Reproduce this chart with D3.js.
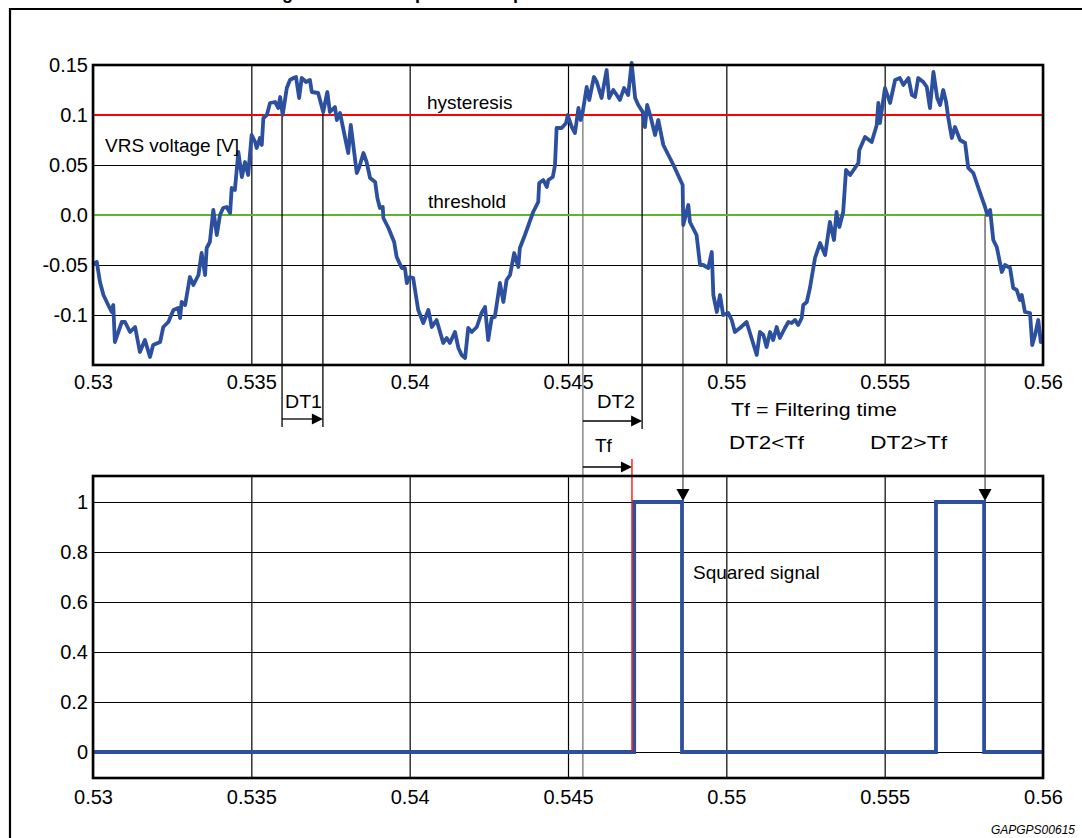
<!DOCTYPE html>
<html><head><meta charset="utf-8">
<script src="https://cdn.jsdelivr.net/npm/d3@7/dist/d3.min.js"></script>
<style>
body{margin:0;background:#fff;}
svg{display:block;font-family:"Liberation Sans",Arial,sans-serif;}
</style></head>
<body><svg id="c" width="1082" height="838"></svg>
<script>
// ---------- data ----------
const xTicks = [0.53,0.535,0.54,0.545,0.55,0.555,0.56];
const xTickLabels = ["0.53","0.535","0.54","0.545","0.55","0.555","0.56"];
const vTicks = [0.15,0.1,0.05,0,-0.05,-0.1];
const vTickLabels = ["0.15","0.1","0.05","0.0","-0.05","-0.1"];
const sqTicks = [1,0.8,0.6,0.4,0.2,0];
const sqTickLabels = ["1","0.8","0.6","0.4","0.2","0"];
const hysteresisLevel = 0.1;
const thresholdLevel = 0.0;

const vrsTime = [0.53000,0.53006,0.53012,0.53022,0.53033,0.53048,0.53059,0.53064,0.53069,0.53091,0.53101,0.53117,0.53133,0.53148,0.53164,0.53180,0.53190,0.53212,0.53222,0.53238,0.53254,0.53269,0.53275,0.53280,0.53291,0.53306,0.53317,0.53333,0.53343,0.53354,0.53359,0.53369,0.53380,0.53391,0.53401,0.53411,0.53422,0.53433,0.53438,0.53448,0.53459,0.53470,0.53480,0.53490,0.53501,0.53512,0.53517,0.53527,0.53533,0.53538,0.53549,0.53559,0.53575,0.53585,0.53591,0.53599,0.53612,0.53622,0.53633,0.53641,0.53651,0.53659,0.53673,0.53685,0.53691,0.53711,0.53727,0.53740,0.53748,0.53764,0.53770,0.53780,0.53806,0.53814,0.53833,0.53841,0.53854,0.53864,0.53875,0.53891,0.53898,0.53906,0.53915,0.53917,0.53933,0.53951,0.53959,0.53975,0.53985,0.53991,0.54001,0.54011,0.54027,0.54043,0.54059,0.54070,0.54085,0.54106,0.54117,0.54127,0.54143,0.54154,0.54164,0.54175,0.54185,0.54196,0.54212,0.54227,0.54238,0.54248,0.54259,0.54269,0.54285,0.54296,0.54306,0.54317,0.54330,0.54343,0.54348,0.54364,0.54390,0.54406,0.54409,0.54422,0.54433,0.54438,0.54452,0.54459,0.54464,0.54480,0.54494,0.54499,0.54512,0.54522,0.54533,0.54540,0.54546,0.54559,0.54567,0.54582,0.54591,0.54606,0.54622,0.54630,0.54643,0.54654,0.54664,0.54677,0.54690,0.54701,0.54712,0.54722,0.54736,0.54743,0.54750,0.54761,0.54775,0.54785,0.54801,0.54833,0.54862,0.54864,0.54880,0.54885,0.54906,0.54917,0.54927,0.54943,0.54954,0.54959,0.54970,0.54980,0.54990,0.55006,0.55017,0.55027,0.55043,0.55064,0.55096,0.55106,0.55117,0.55127,0.55138,0.55148,0.55159,0.55169,0.55185,0.55196,0.55206,0.55217,0.55227,0.55238,0.55243,0.55254,0.55264,0.55280,0.55296,0.55312,0.55327,0.55340,0.55348,0.55357,0.55369,0.55378,0.55391,0.55417,0.55420,0.55438,0.55459,0.55475,0.55480,0.55485,0.55501,0.55517,0.55533,0.55548,0.55559,0.55575,0.55586,0.55596,0.55606,0.55622,0.55633,0.55643,0.55654,0.55666,0.55675,0.55685,0.55694,0.55701,0.55712,0.55722,0.55738,0.55754,0.55764,0.55780,0.55796,0.55817,0.55824,0.55833,0.55843,0.55854,0.55870,0.55880,0.55896,0.55906,0.55917,0.55927,0.55933,0.55943,0.55959,0.55966,0.55975,0.55985,0.55993,0.55999];
const vrsVolt = [-0.050,-0.048,-0.047,-0.067,-0.080,-0.090,-0.097,-0.090,-0.127,-0.107,-0.107,-0.117,-0.112,-0.137,-0.125,-0.142,-0.130,-0.127,-0.112,-0.107,-0.095,-0.093,-0.103,-0.087,-0.090,-0.062,-0.070,-0.060,-0.038,-0.060,-0.033,-0.027,0.005,-0.020,0.000,0.007,0.008,0.002,0.027,0.025,0.063,0.038,0.053,0.040,0.080,0.073,0.067,0.077,0.070,0.097,0.100,0.112,0.113,0.107,0.118,0.100,0.127,0.135,0.137,0.138,0.117,0.137,0.133,0.135,0.123,0.122,0.103,0.123,0.103,0.108,0.095,0.102,0.062,0.090,0.042,0.048,0.062,0.053,0.037,0.033,0.017,0.007,0.008,-0.003,-0.013,-0.027,-0.042,-0.053,-0.053,-0.068,-0.062,-0.063,-0.095,-0.108,-0.095,-0.112,-0.105,-0.128,-0.123,-0.128,-0.117,-0.133,-0.140,-0.143,-0.113,-0.117,-0.112,-0.098,-0.092,-0.125,-0.103,-0.102,-0.068,-0.087,-0.065,-0.060,-0.038,-0.052,-0.033,-0.020,0.003,0.013,0.032,0.035,0.028,0.035,0.038,0.050,0.087,0.087,0.092,0.100,0.088,0.082,0.107,0.095,0.102,0.128,0.115,0.138,0.133,0.117,0.145,0.117,0.125,0.120,0.115,0.127,0.120,0.152,0.117,0.110,0.103,0.088,0.110,0.098,0.080,0.095,0.070,0.050,0.030,-0.010,0.010,-0.007,-0.020,-0.050,-0.050,-0.053,-0.037,-0.080,-0.097,-0.080,-0.100,-0.098,-0.105,-0.117,-0.113,-0.107,-0.140,-0.117,-0.120,-0.132,-0.117,-0.125,-0.112,-0.123,-0.113,-0.107,-0.108,-0.105,-0.110,-0.103,-0.090,-0.087,-0.073,-0.043,-0.028,-0.040,-0.007,-0.025,0.003,-0.012,0.003,0.045,0.040,0.052,0.065,0.078,0.073,0.090,0.112,0.092,0.127,0.112,0.135,0.137,0.130,0.137,0.120,0.118,0.137,0.133,0.128,0.107,0.143,0.117,0.110,0.125,0.113,0.097,0.077,0.088,0.075,0.072,0.047,0.042,0.027,0.008,0.000,0.005,-0.025,-0.032,-0.057,-0.050,-0.053,-0.073,-0.075,-0.085,-0.080,-0.097,-0.098,-0.130,-0.120,-0.105,-0.127,-0.125];

const sqTime  = [0.53,0.54709,0.54709,0.54860,0.54860,0.55662,0.55662,0.55814,0.55814,0.56];
const sqValue = [0,0,1,1,0,0,1,1,0,0];

// annotation times
const dt1Times = [0.53597,0.53726];
const dt2Times = [0.54547,0.54734];
const tfTimes  = [0.54547,0.54702];
const edgeTimes = [0.54863,0.55817];

// ---------- scales ----------
const svg = d3.select("#c");
const x = d3.scaleLinear().domain([0.53,0.56]).range([93,1043]);
const yTop = d3.scaleLinear().domain([-0.15,0.15]).range([365,65]);
const yBot = d3.scaleLinear().domain([-0.104,1.104]).range([778,476]);
const FS = 19, TFS = 20;

// title (cut off by page top in the reference) and outer frame
const title = svg.append("text").attr("x",150).attr("y",-1)
  .attr("font-weight","bold").attr("font-size",18)
  .text("Effect of filtering on the VRS input and output");
svg.append("path").attr("d","M10,860V9H1095").attr("fill","none").attr("stroke","#000").attr("stroke-width",2.2);

function grid(yScale, yT, yL, yDom, pad){
  const g = svg.append("g");
  g.append("g").attr("transform",`translate(${x(0.53)},0)`)
    .call(d3.axisLeft(yScale).tickValues(yT).tickFormat((d,i)=>yL[i])
      .tickSize(-(x(0.56)-x(0.53))).tickPadding(5))
    .call(a=>{a.select(".domain").remove();
      a.selectAll("line").attr("stroke","#000").attr("stroke-width",1.2);
      a.selectAll("text").attr("font-size",TFS).attr("font-family","Liberation Sans, Arial").attr("fill","#000");});
  g.append("g").attr("transform",`translate(0,${yScale(yDom[0])})`)
    .call(d3.axisBottom(x).tickValues(xTicks).tickFormat((d,i)=>xTickLabels[i])
      .tickSize(-(yScale(yDom[0])-yScale(yDom[1]))).tickPadding(pad))
    .call(a=>{a.select(".domain").remove();
      a.selectAll("line").attr("stroke","#000").attr("stroke-width",1.2);
      a.selectAll("text").attr("font-size",TFS).attr("font-family","Liberation Sans, Arial").attr("fill","#000");});
  return g;
}
grid(yTop, vTicks, vTickLabels, [-0.15,0.15], 10);
grid(yBot, sqTicks, sqTickLabels, [-0.104,1.104], 12);

// reference levels
svg.append("line").attr("x1",x(0.53)).attr("x2",x(0.56)).attr("y1",yTop(hysteresisLevel)).attr("y2",yTop(hysteresisLevel))
  .attr("stroke","#ff0000").attr("stroke-width",2);
svg.append("line").attr("x1",x(0.53)).attr("x2",x(0.56)).attr("y1",yTop(thresholdLevel)).attr("y2",yTop(thresholdLevel))
  .attr("stroke","#5cb531").attr("stroke-width",2);

// annotation helper lines
function vline(t,y1,y2,col,w){svg.append("line").attr("x1",x(t)).attr("x2",x(t)).attr("y1",y1).attr("y2",y2).attr("stroke",col).attr("stroke-width",w||1.3);}
function arrowR(t1,t2,yy){
  svg.append("line").attr("x1",x(t1)).attr("x2",x(t2)-10).attr("y1",yy).attr("y2",yy).attr("stroke","#000").attr("stroke-width",1.3);
  svg.append("path").attr("d",`M${x(t2)},${yy}L${x(t2)-11},${yy-5.5}L${x(t2)-11},${yy+5.5}Z`).attr("fill","#000");
}
function arrowD(t,yy){
  svg.append("path").attr("d",`M${x(t)},${yy}L${x(t)-6.5},${yy-12}L${x(t)+6.5},${yy-12}Z`).attr("fill","#000");
}
vline(dt1Times[0], yTop(hysteresisLevel), 427, "#000");
vline(dt1Times[1], yTop(hysteresisLevel)-3, 427, "#000");
vline(dt2Times[0], yTop(hysteresisLevel), yBot(-0.1), "#777");
vline(dt2Times[1], yTop(hysteresisLevel)-3, 429, "#000");
edgeTimes.forEach(t=>{ vline(t, yTop(thresholdLevel), yBot(1)-4, "#555"); arrowD(t, yBot(1)-1); });
arrowR(dt1Times[0], dt1Times[1], 419);
arrowR(dt2Times[0], dt2Times[1], 421);
arrowR(tfTimes[0], tfTimes[1], 467);

// series
const vrs = vrsTime.map((t,i)=>[t,vrsVolt[i]]);
svg.append("path").datum(vrs).attr("fill","none").attr("stroke","#2c4f9e").attr("stroke-width",3.8)
  .attr("stroke-linejoin","round")
  .attr("d",d3.line().x(d=>x(d[0])).y(d=>yTop(d[1])));
const sq = sqTime.map((t,i)=>[t,sqValue[i]]);
svg.append("path").datum(sq).attr("fill","none").attr("stroke","#2c4f9e").attr("stroke-width",3.8)
  .attr("d",d3.line().x(d=>x(d[0])).y(d=>yBot(d[1])));
vline(tfTimes[1], 459, yBot(0), "#ff0000", 1.3);

// plot frames
[[yTop,-0.15,0.15],[yBot,-0.104,1.104]].forEach(([ys,a,b])=>{
  svg.append("rect").attr("x",x(0.53)).attr("y",ys(b)).attr("width",x(0.56)-x(0.53)).attr("height",ys(a)-ys(b))
    .attr("fill","none").attr("stroke","#000").attr("stroke-width",2.6);
});

// texts
function txt(s,xx,yy,opts){opts=opts||{};const t=svg.append("text").attr("x",xx).attr("y",yy).attr("font-size",opts.fs||FS).attr("fill","#000").text(s);
  if(opts.anchor)t.attr("text-anchor",opts.anchor); if(opts.italic)t.attr("font-style","italic");
  if(opts.len)t.attr("textLength",opts.len).attr("lengthAdjust","spacingAndGlyphs"); return t;}
txt("hysteresis",427,109);
txt("threshold",428,208);
txt("VRS voltage [V]",105,152);
txt("DT1",285,408,{len:37});
txt("DT2",597,408,{len:38});
txt("Tf",595,452);
txt("Tf = Filtering time",731,416,{len:166});
txt("DT2<Tf",729,449,{len:75});
txt("DT2>Tf",870,449,{len:77});
txt("Squared signal",693,579);
txt("GAPGPS00615",1075,834,{fs:12,italic:true,anchor:"end"});

// align the cut-off title so its first descender sits where the reference shows it
const tn = title.node(); const s = tn.textContent; const gi = s.indexOf("g");
const gx = tn.getStartPositionOfChar(gi).x;
title.attr("x", 150 + (282 - gx));
</script></body></html>
